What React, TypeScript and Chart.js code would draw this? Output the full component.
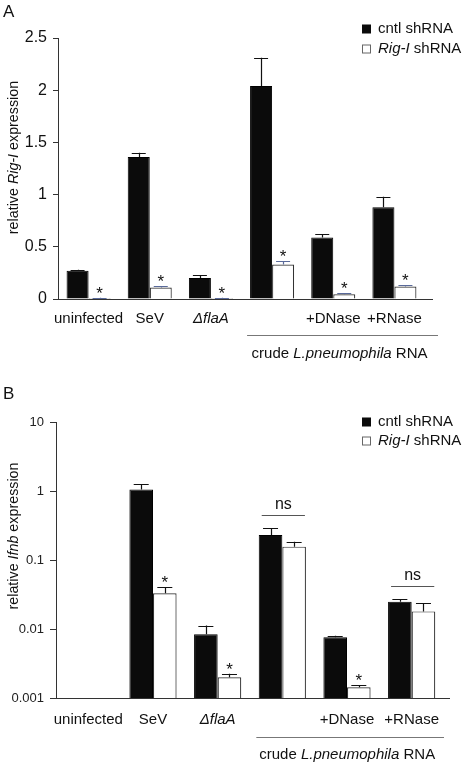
import React, { useEffect, useRef } from "react";
import { Chart, registerables } from "chart.js";

Chart.register(...registerables);

const FONT = "'Liberation Sans', Arial, Helvetica, sans-serif";

// ---------- data ----------
const categories = ["uninfected", "SeV", "ΔflaA", "", "+DNase", "+RNase"];
const groupLabel = [
  ["crude ", false],
  ["L.pneumophila", true],
  [" RNA", false],
] as [string, boolean][];
const legendCntl = [["cntl shRNA", false]] as [string, boolean][];
const legendRig = [
  ["Rig-I", true],
  [" shRNA", false],
] as [string, boolean][];

// Panel A (linear)
const titleA = [
  ["relative ", false],
  ["Rig-I", true],
  [" expression", false],
] as [string, boolean][];
const cntlA = [0.27, 1.36, 0.2, 2.04, 0.59, 0.88];
const cntlAErr = [0.01, 0.04, 0.03, 0.27, 0.03, 0.1];
const rigA = [0.01, 0.11, 0.01, 0.33, 0.045, 0.12];
const rigAErr = [0.002, 0.01, 0.002, 0.03, 0.008, 0.012];
const starsA = [true, true, true, true, true, true];
const yTicksA = [0, 0.5, 1, 1.5, 2, 2.5];

// Panel B (log)
const titleB = [
  ["relative ", false],
  ["Ifnb", true],
  [" expression", false],
] as [string, boolean][];
const cntlB = [0.001, 1.05, 0.0084, 0.23, 0.0076, 0.0249];
const cntlBErr = [0, 0.2, 0.0028, 0.058, 0.0004, 0.002];
const rigB = [null, 0.033, 0.002, 0.156, 0.00143, 0.018];
const rigBErr = [0, 0.007, 0.00025, 0.028, 0.0001, 0.0056];
const starsB = [false, true, true, false, true, false];
const nsB = [false, false, false, true, false, true];
const yTicksB = [0.001, 0.01, 0.1, 1, 10];

type Rich = [string, boolean][];

function drawRich(
  ctx: CanvasRenderingContext2D,
  segs: Rich,
  x: number,
  y: number,
  size: number,
  align: "left" | "center",
  color = "#111"
) {
  let total = 0;
  const widths: number[] = [];
  for (const [t, it] of segs) {
    ctx.font = `${it ? "italic " : ""}${size}px ${FONT}`;
    const w = ctx.measureText(t).width;
    widths.push(w);
    total += w;
  }
  let cx = align === "center" ? x - total / 2 : x;
  ctx.fillStyle = color;
  ctx.textAlign = "left";
  ctx.textBaseline = "middle";
  segs.forEach(([t, it], i) => {
    ctx.font = `${it ? "italic " : ""}${size}px ${FONT}`;
    ctx.fillText(t, cx, y);
    cx += widths[i];
  });
}

interface PanelCfg {
  letter: string;
  letterY: number;
  title: Rich;
  titleX: number;
  titleShift: number;
  vals: (number | null)[][];
  errs: number[][];
  errColors: string[];
  stars: boolean[];
  ns: boolean[] | null;
  capW: number;
  axisExt: number;
  bracketLeft: number;
  bracketRightExt: number;
  bracketY: number;
  groupTextY: number;
  legendY: number[];
}

function makePlugin(cfg: PanelCfg) {
  return {
    id: "annot" + cfg.letter,
    afterDatasetsDraw(chart: any) {
      const ctx: CanvasRenderingContext2D = chart.ctx;
      const xs = chart.scales.x;
      const ys = chart.scales.y;
      const area = chart.chartArea;
      ctx.save();
      // x axis line (extended)
      ctx.strokeStyle = "#333";
      ctx.lineWidth = 1;
      ctx.beginPath();
      ctx.moveTo(area.left, Math.round(area.bottom) + 0.5);
      ctx.lineTo(area.right + cfg.axisExt, Math.round(area.bottom) + 0.5);
      ctx.stroke();

      // error bars + stars
      const errTops: number[][] = [[], []];
      for (let d = 0; d < 2; d++) {
        const meta = chart.getDatasetMeta(d);
        meta.data.forEach((el: any, i: number) => {
          const v = cfg.vals[d][i];
          if (v == null) return;
          const e = cfg.errs[d][i];
          const top = ys.getPixelForValue(v + e);
          errTops[d][i] = top;
          if (e > 0) {
            ctx.strokeStyle = cfg.errColors[d];
            ctx.lineWidth = 1.2;
            ctx.beginPath();
            ctx.moveTo(Math.round(el.x) + 0.5, el.y);
            ctx.lineTo(Math.round(el.x) + 0.5, top);
            ctx.moveTo(el.x - cfg.capW / 2, Math.round(top) + 0.5);
            ctx.lineTo(el.x + cfg.capW / 2, Math.round(top) + 0.5);
            ctx.stroke();
          }
          if (d === 1 && cfg.stars[i]) {
            ctx.fillStyle = "#111";
            ctx.font = `17px ${FONT}`;
            ctx.textAlign = "center";
            ctx.textBaseline = "alphabetic";
            ctx.fillText("*", el.x, top + 1);
          }
        });
      }

      // ns brackets
      if (cfg.ns) {
        const m0 = chart.getDatasetMeta(0);
        const m1 = chart.getDatasetMeta(1);
        cfg.ns.forEach((on, i) => {
          if (!on) return;
          const b0 = m0.data[i];
          const b1 = m1.data[i];
          const l = b0.x - b0.width / 2 + 3;
          const r = b1.x + b1.width / 2 - 1;
          const t = Math.min(errTops[0][i] ?? 1e9, errTops[1][i] ?? 1e9);
          const ly = Math.round(t - 13) + 0.5;
          ctx.strokeStyle = "#555";
          ctx.lineWidth = 1;
          ctx.beginPath();
          ctx.moveTo(l, ly);
          ctx.lineTo(r, ly);
          ctx.stroke();
          ctx.fillStyle = "#111";
          ctx.font = `16px ${FONT}`;
          ctx.textAlign = "center";
          ctx.textBaseline = "middle";
          ctx.fillText("ns", (l + r) / 2, ly - 11);
        });
      }

      // group bracket under labels
      const c3 = xs.getPixelForValue(3);
      const bl = c3 - cfg.bracketLeft;
      const br = area.right + cfg.bracketRightExt;
      ctx.strokeStyle = "#777";
      ctx.lineWidth = 1;
      ctx.beginPath();
      ctx.moveTo(bl, cfg.bracketY + 0.5);
      ctx.lineTo(br, cfg.bracketY + 0.5);
      ctx.stroke();
      drawRich(ctx, groupLabel, (bl + br) / 2 - 3, cfg.groupTextY, 15, "center");

      // panel letter
      ctx.fillStyle = "#111";
      ctx.font = `17px ${FONT}`;
      ctx.textAlign = "left";
      ctx.textBaseline = "middle";
      ctx.fillText(cfg.letter, 3, cfg.letterY);

      // y title
      ctx.save();
      ctx.translate(cfg.titleX, (area.top + area.bottom) / 2 + cfg.titleShift);
      ctx.rotate(-Math.PI / 2);
      drawRich(ctx, cfg.title, 0, 0, 14.3, "center");
      ctx.restore();

      // legend
      const lx = 362;
      ctx.fillStyle = "#0b0b0b";
      ctx.fillRect(lx, cfg.legendY[0] - 4.5, 9, 9);
      drawRich(ctx, legendCntl, 378, cfg.legendY[0], 15, "left");
      ctx.fillStyle = "#fff";
      ctx.fillRect(lx, cfg.legendY[1] - 4.5, 9, 9);
      ctx.strokeStyle = "#666";
      ctx.strokeRect(lx + 0.5, cfg.legendY[1] - 4, 8, 8);
      drawRich(ctx, legendRig, 378, cfg.legendY[1], 15, "left");

      ctx.restore();
    },
  };
}

function xScaleOpts(height: number, padding: number) {
  return {
    grid: { display: false, drawTicks: false },
    border: { display: false },
    ticks: {
      autoSkip: false,
      maxRotation: 0,
      padding,
      color: "#111",
      font: (c: any) => ({
        size: 15,
        family: FONT,
        style: c.index === 2 ? "italic" : "normal",
      }),
    },
    afterFit: (s: any) => {
      s.height = height;
    },
  };
}

function datasets(a: (number | null)[], b: (number | null)[], pct: number) {
  return [
    {
      label: "cntl shRNA",
      data: a,
      backgroundColor: "#0b0b0b",
      borderColor: "#000",
      borderWidth: 1,
      barPercentage: 1,
      categoryPercentage: pct,
    },
    {
      label: "Rig-I shRNA",
      data: b,
      backgroundColor: "#ffffff",
      borderColor: "#333",
      borderWidth: 1.2,
      barPercentage: 1,
      categoryPercentage: pct,
    },
  ];
}

function PanelA() {
  const ref = useRef<HTMLCanvasElement>(null);
  useEffect(() => {
    const chart = new Chart(ref.current!, {
      type: "bar",
      data: { labels: categories, datasets: datasets(cntlA, rigA, 0.72) as any },
      options: {
        responsive: false,
        animation: false,
        devicePixelRatio: 1,
        layout: { padding: { left: 0, top: 38, right: 43, bottom: 0 } },
        plugins: { legend: { display: false }, tooltip: { enabled: false } },
        scales: {
          x: xScaleOpts(81, 11) as any,
          y: {
            min: 0,
            max: 2.5,
            afterBuildTicks: (s: any) => {
              s.ticks = yTicksA.map((v) => ({ value: v }));
            },
            ticks: {
              padding: 6,
              color: "#111",
              font: { size: 16, family: FONT },
              callback: (v: any) => String(v),
            },
            grid: { drawOnChartArea: false, tickLength: 5, color: "#333" },
            border: { color: "#333" },
            afterFit: (s: any) => {
              s.width = 58;
            },
          } as any,
        },
      },
      plugins: [
        makePlugin({
          letter: "A",
          letterY: 12,
          title: titleA,
          titleX: 14,
          titleShift: -11,
          vals: [cntlA, rigA],
          errs: [cntlAErr, rigAErr],
          errColors: ["#111", "#5a6a9a"],
          stars: starsA,
          ns: null,
          capW: 14,
          axisExt: 8,
          bracketLeft: 25,
          bracketRightExt: 13,
          bracketY: 335,
          groupTextY: 354,
          legendY: [29, 49],
        }),
      ],
    });
    return () => chart.destroy();
  }, []);
  return (
    <canvas
      ref={ref}
      width={468}
      height={380}
      style={{ position: "absolute", left: 0, top: 0, width: 468, height: 380 }}
    />
  );
}

function PanelB() {
  const ref = useRef<HTMLCanvasElement>(null);
  useEffect(() => {
    const chart = new Chart(ref.current!, {
      type: "bar",
      data: { labels: categories, datasets: datasets(cntlB, rigB, 0.73) as any },
      options: {
        responsive: false,
        animation: false,
        devicePixelRatio: 1,
        layout: { padding: { left: 0, top: 42, right: 24, bottom: 0 } },
        plugins: { legend: { display: false }, tooltip: { enabled: false } },
        scales: {
          x: xScaleOpts(70, 13) as any,
          y: {
            type: "logarithmic",
            min: 0.001,
            max: 10,
            afterBuildTicks: (s: any) => {
              s.ticks = yTicksB.map((v) => ({ value: v }));
            },
            ticks: {
              padding: 6,
              color: "#222",
              font: { size: 13, family: FONT },
              callback: (v: any) => String(v),
            },
            grid: { drawOnChartArea: false, tickLength: 6, color: "#333" },
            border: { color: "#333" },
            afterFit: (s: any) => {
              s.width = 56;
            },
          } as any,
        },
      },
      plugins: [
        makePlugin({
          letter: "B",
          letterY: 14,
          title: titleB,
          titleX: 14,
          titleShift: -24,
          vals: [cntlB, rigB],
          errs: [cntlBErr, rigBErr],
          errColors: ["#111", "#111"],
          stars: starsB,
          ns: nsB,
          capW: 15,
          axisExt: 6,
          bracketLeft: 26,
          bracketRightExt: 0,
          bracketY: 357,
          groupTextY: 375,
          legendY: [42, 61],
        }),
      ],
    });
    return () => chart.destroy();
  }, []);
  return (
    <canvas
      ref={ref}
      width={468}
      height={388}
      style={{ position: "absolute", left: 0, top: 380, width: 468, height: 388 }}
    />
  );
}

export default function App() {
  return (
    <div
      style={{
        position: "absolute",
        left: 0,
        top: 0,
        width: 468,
        height: 768,
        background: "#fff",
        overflow: "hidden",
      }}
    >
      <PanelA />
      <PanelB />
    </div>
  );
}
